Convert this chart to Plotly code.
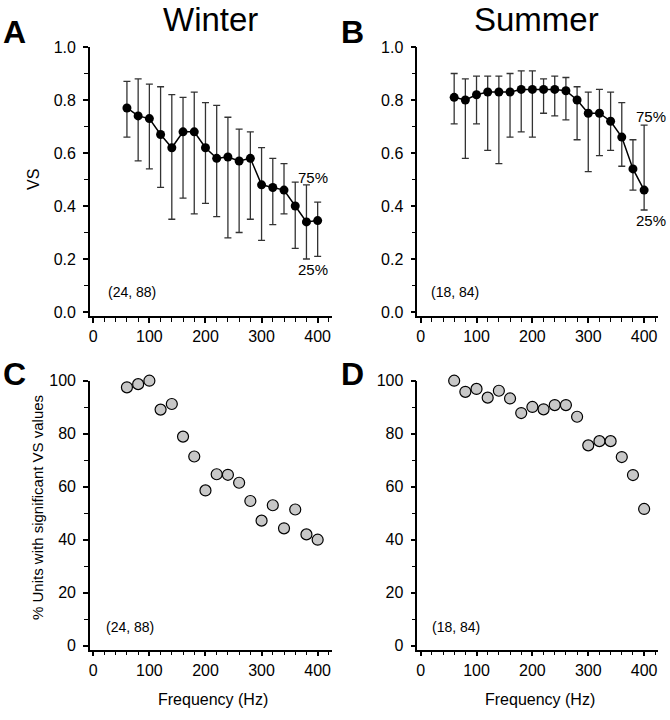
import plotly.graph_objects as go

# stimulus frequencies (Hz)
freq = [60, 80, 100, 120, 140, 160, 180, 200, 220, 240, 260, 280, 300, 320, 340, 360, 380, 400]

# median vector strength with 25% / 75% quartiles
winter_vs = [0.77, 0.74, 0.73, 0.67, 0.62, 0.68, 0.68, 0.62, 0.58, 0.585, 0.57, 0.58, 0.48, 0.47, 0.46, 0.40, 0.34, 0.345]
winter_q75 = [0.87, 0.88, 0.86, 0.85, 0.82, 0.81, 0.83, 0.79, 0.78, 0.735, 0.69, 0.68, 0.62, 0.58, 0.56, 0.49, 0.48, 0.415]
winter_q25 = [0.66, 0.57, 0.54, 0.47, 0.35, 0.43, 0.37, 0.41, 0.36, 0.28, 0.30, 0.35, 0.27, 0.33, 0.37, 0.24, 0.20, 0.21]

summer_vs = [0.81, 0.80, 0.82, 0.83, 0.83, 0.83, 0.84, 0.84, 0.84, 0.84, 0.835, 0.80, 0.75, 0.75, 0.72, 0.66, 0.54, 0.46]
summer_q75 = [0.90, 0.88, 0.89, 0.89, 0.89, 0.90, 0.91, 0.91, 0.88, 0.89, 0.885, 0.85, 0.83, 0.84, 0.83, 0.79, 0.65, 0.705]
summer_q25 = [0.71, 0.58, 0.71, 0.61, 0.56, 0.66, 0.68, 0.66, 0.75, 0.74, 0.725, 0.65, 0.53, 0.59, 0.61, 0.55, 0.46, 0.385]

# % units with significant VS
winter_pct = [97.5, 98.7, 100, 89.1, 91.2, 78.9, 71.4, 58.6, 64.7, 64.5, 61.5, 54.6, 47.2, 53.0, 44.3, 51.4, 42.0, 40.0]
summer_pct = [100, 95.8, 96.9, 93.6, 96.2, 93.3, 87.8, 90.1, 89.2, 90.8, 90.8, 86.4, 75.6, 77.2, 77.2, 71.2, 64.4, 51.6]

W, H = 670, 720
FONT = "Liberation Sans, Arial, sans-serif"

def px(x):
    return x / W

def py(y):
    return 1 - y / H

fig = go.Figure()

def vs_trace(vs, q25, q75, xa, ya):
    plus = [b - a for a, b in zip(vs, q75)]
    minus = [a - b for a, b in zip(vs, q25)]
    return go.Scatter(
        x=freq, y=vs, xaxis=xa, yaxis=ya, mode="lines+markers", cliponaxis=False,
        line=dict(color="black", width=1.5),
        marker=dict(color="black", size=9),
        error_y=dict(type="data", array=plus, arrayminus=minus,
                     color="#333333", thickness=1.3, width=3.5),
        showlegend=False, hoverinfo="x+y")

def pct_trace(pct, xa, ya):
    return go.Scatter(
        x=freq, y=pct, xaxis=xa, yaxis=ya, mode="markers", cliponaxis=False,
        marker=dict(color="#c8c8c8", size=11, line=dict(color="black", width=1.2)),
        showlegend=False)

fig.add_trace(vs_trace(winter_vs, winter_q25, winter_q75, "x", "y"))
fig.add_trace(vs_trace(summer_vs, summer_q25, summer_q75, "x2", "y2"))
fig.add_trace(pct_trace(winter_pct, "x3", "y3"))
fig.add_trace(pct_trace(summer_pct, "x4", "y4"))

def xax(dom, anchor):
    return dict(domain=dom, anchor=anchor, range=[-6, 425], automargin=False,
                showline=True, linecolor="black", linewidth=1.5,
                ticks="outside", ticklen=5, tickwidth=1.5, tickcolor="black",
                tickvals=[0, 100, 200, 300, 400], showgrid=False, zeroline=False,
                minor=dict(dtick=20, tick0=0, ticks="outside", ticklen=4,
                           tickwidth=1.2, tickcolor="black", showgrid=False),
                tickfont=dict(size=16, color="black"))

def yax(dom, anchor, rng, vals, labels, mdt):
    return dict(domain=dom, anchor=anchor, range=rng, automargin=False,
                showline=True, linecolor="black", linewidth=1.5,
                ticks="outside", ticklen=5, tickwidth=1.5, tickcolor="black",
                tickvals=vals, ticktext=labels, showgrid=False, zeroline=False,
                ticklabelstandoff=4,
                minor=dict(dtick=mdt, tick0=0, ticks="outside", ticklen=4,
                           tickwidth=1.2, tickcolor="black", showgrid=False),
                tickfont=dict(size=16, color="black"))

vs_ticks = [0, 0.2, 0.4, 0.6, 0.8, 1.0]
vs_labels = ["0.0", "0.2", "0.4", "0.6", "0.8", "1.0"]
pct_ticks = [0, 20, 40, 60, 80, 100]
pct_labels = ["0", "20", "40", "60", "80", "100"]

top_dom = [py(316), py(47)]
bot_dom = [py(649.7), py(380.7)]
left_dom = [px(89.9), px(331.7)]
right_dom = [px(417.3), px(658.1)]

fig.update_layout(
    width=W, height=H, margin=dict(l=0, r=0, t=0, b=0),
    plot_bgcolor="white", paper_bgcolor="white",
    font=dict(family=FONT, color="black"),
    xaxis=xax(left_dom, "y"), yaxis=yax(top_dom, "x", [-0.015, 1.0], vs_ticks, vs_labels, 0.1),
    xaxis2=xax(right_dom, "y2"), yaxis2=yax(top_dom, "x2", [-0.015, 1.0], vs_ticks, vs_labels, 0.1),
    xaxis3=xax(left_dom, "y3"), yaxis3=yax(bot_dom, "x3", [-1.5, 100], pct_ticks, pct_labels, 10),
    xaxis4=xax(right_dom, "y4"), yaxis4=yax(bot_dom, "x4", [-1.5, 100], pct_ticks, pct_labels, 10),
)

def note(text, x, y, size=14, **kw):
    fig.add_annotation(text=text, x=px(x), y=py(y), xref="paper", yref="paper",
                       showarrow=False, font=dict(size=size, color="black", family=FONT),
                       xanchor="center", yanchor="middle", **kw)

note("Winter", 210, 19, size=33)
note("Summer", 536, 19, size=33)
note("<b>A</b>", 14, 32, size=32)
note("<b>B</b>", 352, 32, size=32)
note("<b>C</b>", 14, 374, size=32)
note("<b>D</b>", 352, 374, size=32)

note("VS", 33, 180, size=16, textangle=-90)
note("% Units with significant VS values", 37, 508, size=15, textangle=-90)
note("Frequency (Hz)", 213, 699, size=16)
note("Frequency (Hz)", 540, 699, size=16)

note("(24, 88)", 132, 292)
note("(18, 84)", 455, 292)
note("(24, 88)", 130, 627)
note("(18, 84)", 456, 627)
note("75%", 313, 177, size=15)
note("25%", 313, 269, size=15)
note("75%", 651, 117, size=15)
note("25%", 651, 220, size=15)

# pin the figure to the window's top-left corner so the page is exactly 670x720
pin = ("document.body.style.margin='0';document.body.style.overflow='hidden';"
       "var d=document.getElementById('{plot_id}');"
       "d.style.position='fixed';d.style.top='0';d.style.left='0';")
fig.write_html("out.html", config={"displayModeBar": False}, post_script=pin)
